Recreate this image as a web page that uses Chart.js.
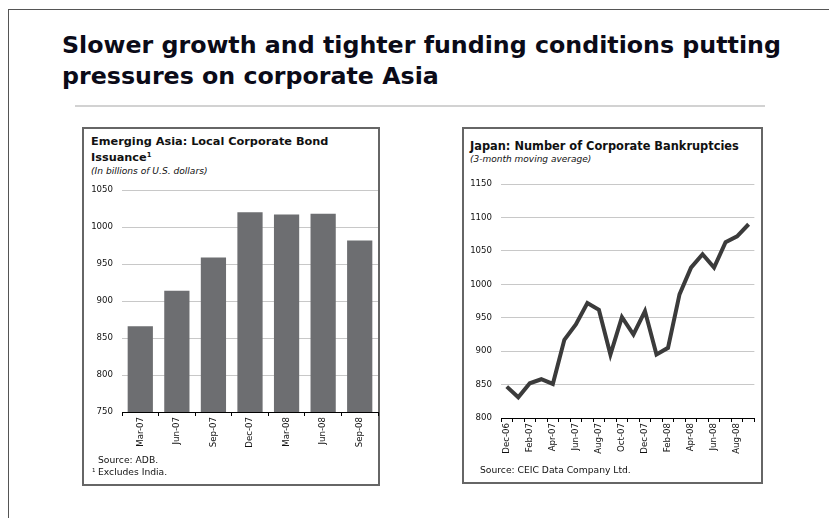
<!DOCTYPE html>
<html>
<head>
<meta charset="utf-8">
<script src="https://cdn.jsdelivr.net/npm/chart.js@4"></script>
<style>
  body { margin: 0; background: #fff; }
  #page { position: relative; width: 829px; height: 518px; overflow: hidden; font-family: "DejaVu Sans", Verdana, sans-serif; color: #111; }
  .abs { position: absolute; white-space: nowrap; line-height: 1; }
  .box { position: absolute; border: 2px solid #666; box-sizing: border-box; }
  canvas { position: absolute; }
  sup { font-size: 60%; vertical-align: 0; position: relative; top: -0.55em; }
</style>
</head>
<body>
<div id="page">
  <div style="position:absolute;left:8px;top:9px;width:900px;height:600px;border-left:1.5px solid #555;border-top:1.5px solid #555;"></div>
  <div style="position:absolute;left:75px;top:105px;width:690px;height:1.5px;background:#d2d2d2;"></div>
  <div class="box" style="left:82px;top:127px;width:298px;height:359px;"></div>
  <div class="box" style="left:462px;top:127px;width:301px;height:357px;"></div>
  <canvas id="bond" width="296" height="280" style="left:84px;top:176px;"></canvas>
  <canvas id="bankrupt" width="296" height="295" style="left:464px;top:170px;"></canvas>
</div>
<script>
// slide title
var titleLines = ['Slower growth and tighter funding conditions putting', 'pressures on corporate Asia'];

// left panel: local corporate bond issuance, billions of US dollars
var bondQuarters = ['Mar-07', 'Jun-07', 'Sep-07', 'Dec-07', 'Mar-08', 'Jun-08', 'Sep-08'];
var bondIssuance = [866, 914, 959, 1020, 1017, 1018, 982];

// right panel: Japan corporate bankruptcies, 3-month moving average
var bankruptMonths = ['Dec-06', 'Jan-07', 'Feb-07', 'Mar-07', 'Apr-07', 'May-07', 'Jun-07', 'Jul-07',
  'Aug-07', 'Sep-07', 'Oct-07', 'Nov-07', 'Dec-07', 'Jan-08', 'Feb-08', 'Mar-08', 'Apr-08',
  'May-08', 'Jun-08', 'Jul-08', 'Aug-08', 'Sep-08'];
var bankruptcies = [847, 831, 852, 858, 851, 917, 940, 972, 962, 895, 951, 925, 960, 895, 905,
  985, 1025, 1045, 1025, 1063, 1072, 1090];

var FONT = '"DejaVu Sans", Verdana, sans-serif';
var page = document.getElementById('page');

// put a line of text so that its baseline lands on y
function place(html, x, baseline, size, style) {
  var d = document.createElement('div');
  d.className = 'abs';
  d.innerHTML = html;
  d.style.left = x + 'px';
  d.style.top = (baseline - 0.846 * size) + 'px';
  d.style.fontSize = size + 'px';
  if (style) d.style.cssText += style;
  page.appendChild(d);
  return d;
}

// fit the big title to its width in the reference
var mctx = document.createElement('canvas').getContext('2d');
mctx.font = 'bold 23px ' + FONT;
var titleSize = 23 * 719 / mctx.measureText(titleLines[0]).width;
place(titleLines[0], 62, 54.5, titleSize, 'font-weight:bold;color:#0b0b18;');
place(titleLines[1], 62, 85, titleSize, 'font-weight:bold;color:#0b0b18;');

// panel texts
place('Emerging Asia: Local Corporate Bond', 91, 145.7, 11.3, 'font-weight:bold;');
place('Issuance<sup>1</sup>', 91, 161.7, 11.3, 'font-weight:bold;');
place('(In billions of U.S. dollars)', 91, 175, 9.1, 'font-style:italic;');
place('Source: ADB.', 98, 462.5, 9.2);
place('<sup>1</sup>', 92, 475, 9.2);
place('Excludes India.', 98, 475, 9.2);

place('Japan: Number of Corporate Bankruptcies', 470, 151, 11.4, 'font-weight:bold;');
place('(3-month moving average)', 470, 162.3, 9, 'font-style:italic;');
place('Source: CEIC Data Company Ltd.', 480, 473, 9.2);

Chart.defaults.font.family = FONT;
Chart.defaults.font.size = 8.6;
Chart.defaults.color = '#111';

function xAxis(height, labels, every) {
  return {
    z: 1,
    offset: true,
    afterFit: function(scale) { scale.height = height; },
    grid: { offset: true, drawOnChartArea: false, drawTicks: true, tickLength: 4, tickColor: '#000', tickWidth: 1 },
    border: { display: true, color: '#000', width: 1 },
    ticks: {
      autoSkip: false, minRotation: 90, maxRotation: 90, padding: 1,
      callback: function(value, index) {
        return index % every === 0 ? labels[index] : '';
      }
    }
  };
}

function yAxis(width, min, max) {
  return {
    min: min,
    max: max,
    afterFit: function(scale) { scale.width = width; },
    grid: { color: '#c8c8c8', lineWidth: 1, drawTicks: false },
    border: { display: false },
    ticks: { stepSize: 50, padding: 9, callback: function(v) { return String(v); } }
  };
}

new Chart(document.getElementById('bond'), {
  type: 'bar',
  data: {
    labels: bondQuarters,
    datasets: [{
      data: bondIssuance,
      backgroundColor: '#6d6e71',
      barPercentage: 0.69,
      categoryPercentage: 1
    }]
  },
  options: {
    responsive: false,
    animation: false,
    devicePixelRatio: 1,
    layout: { padding: { top: 10, right: 2, left: 0, bottom: 0 } },
    plugins: { legend: { display: false }, tooltip: { enabled: false } },
    scales: {
      x: xAxis(44, bondQuarters, 1),
      y: yAxis(38, 750, 1050)
    }
  }
});

new Chart(document.getElementById('bankrupt'), {
  type: 'line',
  data: {
    labels: bankruptMonths,
    datasets: [{
      data: bankruptcies,
      borderColor: '#3b3b3b',
      borderWidth: 4,
      borderJoinStyle: 'miter',
      pointRadius: 0,
      tension: 0,
      fill: false
    }]
  },
  options: {
    responsive: false,
    animation: false,
    devicePixelRatio: 1,
    layout: { padding: { top: 10, right: 3, left: 0, bottom: 0 } },
    plugins: { legend: { display: false }, tooltip: { enabled: false } },
    scales: {
      x: xAxis(47, bankruptMonths, 2),
      y: yAxis(37, 800, 1150)
    }
  }
});
</script>
</body>
</html>
